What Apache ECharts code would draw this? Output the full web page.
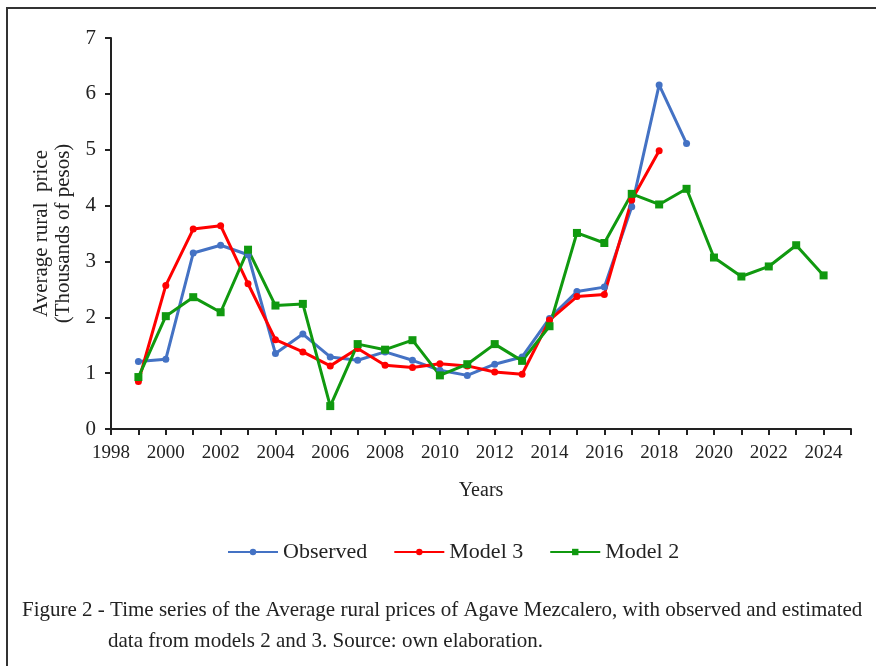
<!DOCTYPE html>
<html>
<head>
<meta charset="utf-8">
<script src="https://cdn.jsdelivr.net/npm/echarts@6/dist/echarts.min.js"></script>
<style>html,body{margin:0;padding:0;background:#fff;}#c{width:876px;height:666px;}</style>
</head>
<body>
<div id="c"></div>
<script>
const yearsObserved = [1999,2000,2001,2002,2003,2004,2005,2006,2007,2008,2009,2010,2011,2012,2013,2014,2015,2016,2017,2018,2019];
const observed = [1.21,1.25,3.15,3.29,3.12,1.35,1.70,1.29,1.23,1.38,1.23,1.05,0.96,1.16,1.29,1.98,2.46,2.54,3.98,6.16,5.11];
const yearsModel3 = [1999,2000,2001,2002,2003,2004,2005,2006,2007,2008,2009,2010,2011,2012,2013,2014,2015,2016,2017,2018];
const model3 = [0.85,2.57,3.58,3.64,2.60,1.60,1.38,1.13,1.44,1.14,1.10,1.17,1.13,1.02,0.98,1.95,2.37,2.41,4.10,4.98];
const yearsModel2 = [1999,2000,2001,2002,2003,2004,2005,2006,2007,2008,2009,2010,2011,2012,2013,2014,2015,2016,2017,2018,2019,2020,2021,2022,2023,2024];
const model2 = [0.93,2.02,2.36,2.09,3.21,2.21,2.24,0.41,1.52,1.42,1.59,0.96,1.16,1.52,1.22,1.84,3.51,3.33,4.21,4.02,4.30,3.07,2.73,2.91,3.29,2.75];
const seriesNames = ['Observed','Model 3','Model 2'];
const xLabelYears = [1998,2000,2002,2004,2006,2008,2010,2012,2014,2016,2018,2020,2022,2024];
const yTicks = [0,1,2,3,4,5,6,7];

const font = '"Liberation Serif","Times New Roman",serif';
const pair = (xs, ys) => xs.map((x, i) => [x, ys[i]]);

const chart = echarts.init(document.getElementById('c'), null, {renderer: 'canvas'});
chart.setOption({
  backgroundColor: '#fff',
  animation: false,
  grid: {left: 111, right: 25, top: 38, bottom: 237, containLabel: false},
  xAxis: {
    type: 'value', min: 1998, max: 2025, interval: 1,
    name: 'Years', nameLocation: 'middle', nameGap: 52,
    nameTextStyle: {fontFamily: font, fontSize: 20, color: '#222'},
    axisLine: {lineStyle: {color: '#222', width: 2}},
    axisTick: {show: true, length: 6, lineStyle: {color: '#222', width: 2}},
    axisLabel: {
      fontFamily: font, fontSize: 19, color: '#222', margin: 15,
      formatter: v => xLabelYears.indexOf(v) >= 0 ? String(v) : ''
    },
    splitLine: {show: false}
  },
  yAxis: {
    type: 'value', min: 0, max: 7, interval: 1,
    name: 'Average rural  price\n(Thousands of pesos)', nameLocation: 'middle', nameGap: 30, nameRotate: 90,
    nameTextStyle: {fontFamily: font, fontSize: 21, color: '#222', lineHeight: 22},
    axisLine: {show: true, lineStyle: {color: '#222', width: 2}},
    axisTick: {show: true, length: 6, lineStyle: {color: '#222', width: 2}},
    axisLabel: {fontFamily: font, fontSize: 21, color: '#222', margin: 15,
      formatter: v => yTicks.indexOf(v) >= 0 ? String(v) : ''},
    splitLine: {show: false}
  },
  legend: {
    bottom: 98, left: 222, itemWidth: 50, itemHeight: 8, itemGap: 26,
    textStyle: {fontFamily: font, fontSize: 22, color: '#222'},
    data: seriesNames
  },
  series: [
    {name: seriesNames[0], type: 'line', data: pair(yearsObserved, observed), color: '#4472C4',
      symbol: 'circle', symbolSize: 7, lineStyle: {width: 3}, itemStyle: {color: '#4472C4'}},
    {name: seriesNames[1], type: 'line', data: pair(yearsModel3, model3), color: '#FF0000',
      symbol: 'circle', symbolSize: 7, lineStyle: {width: 3}, itemStyle: {color: '#FF0000'}},
    {name: seriesNames[2], type: 'line', data: pair(yearsModel2, model2), color: '#10990F',
      symbol: 'rect', symbolSize: 8, lineStyle: {width: 3}, itemStyle: {color: '#10990F'}}
  ],
  graphic: [
    {type: 'rect', shape: {x: 7, y: 8, width: 900, height: 700}, style: {fill: 'none', stroke: '#333', lineWidth: 2}, silent: true},
    {type: 'text', left: 22, top: 600, style: {text: 'Figure 2 - Time series of the Average rural prices of Agave Mezcalero, with observed and estimated', fontFamily: font, fontSize: 21, fill: '#222'}},
    {type: 'text', left: 108, top: 631, style: {text: 'data from models 2 and 3. Source: own elaboration.', fontFamily: font, fontSize: 21, fill: '#222'}}
  ]
});
</script>
</body>
</html>
